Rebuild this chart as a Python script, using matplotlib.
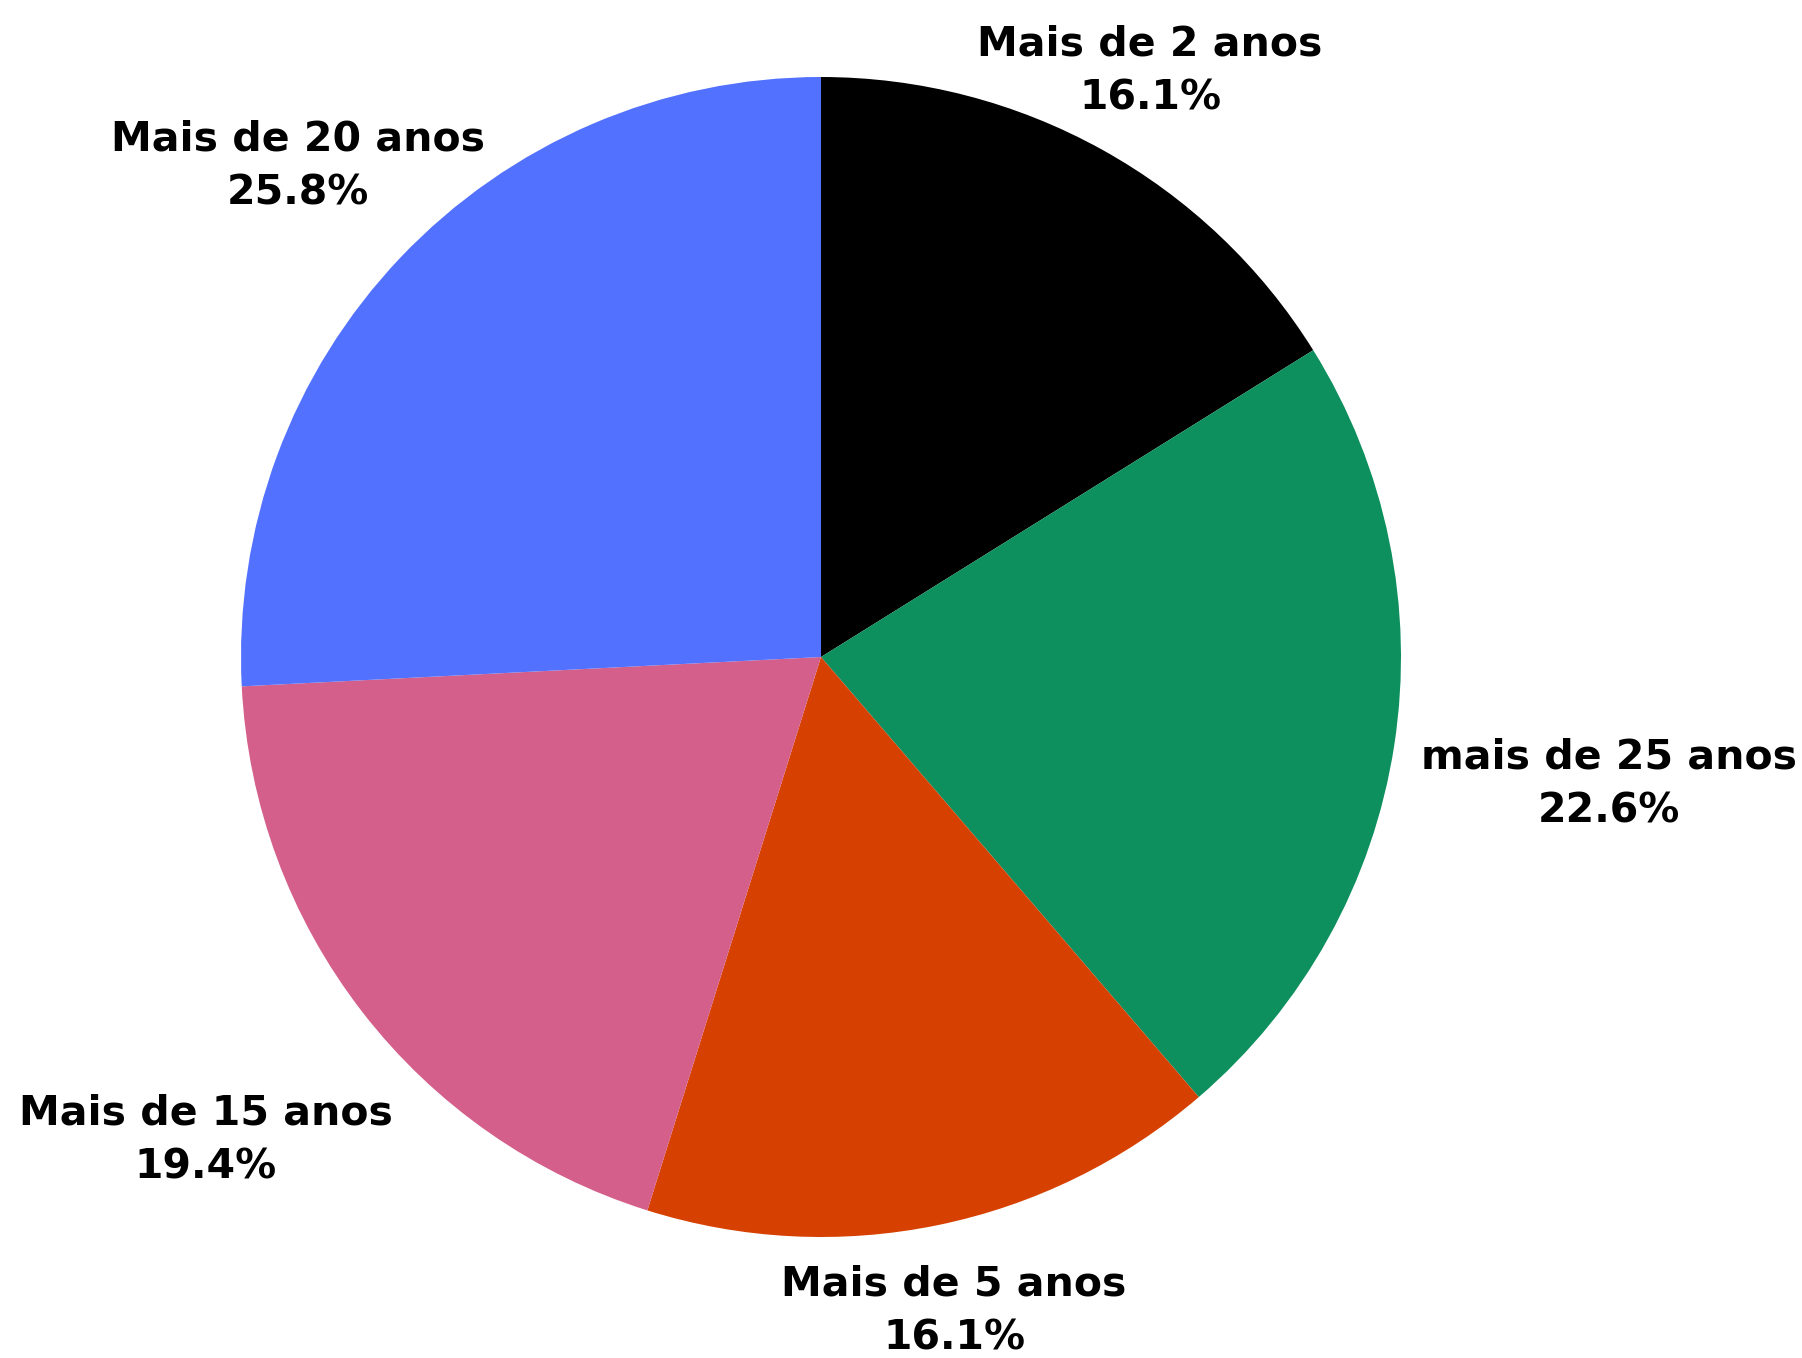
import matplotlib
matplotlib.use("Agg")
import matplotlib.pyplot as plt
import matplotlib.transforms as mtransforms
import numpy as np

categories = ["Mais de 2 anos", "mais de 25 anos", "Mais de 5 anos", "Mais de 15 anos", "Mais de 20 anos"]
values = [5, 7, 5, 6, 8]
colors = ["#000000", "#0e8f5e", "#d64000", "#d45f8a", "#5271ff"]
label_dist = [1.169, 1.374, 1.139, 1.342, 1.245]

W, H = 1802, 1358
cx, cy, R = 821, 657, 580

fig = plt.figure(figsize=(W / 100, H / 100), dpi=100)
ax = fig.add_axes([0, 0, 1, 1])
wedges, _ = ax.pie(values, colors=colors, startangle=90, counterclock=False,
                   radius=1.0, wedgeprops=dict(linewidth=0))
ax.set_xlim(-cx / R, (W - cx) / R)
ax.set_ylim(-(H - cy) / R, cy / R)
ax.set_aspect("auto")
ax.axis("off")

shift = mtransforms.offset_copy(ax.transData, fig=fig, x=0, y=-7, units="dots")
total = sum(values)
for w, name, v, d in zip(wedges, categories, values, label_dist):
    ang = np.deg2rad((w.theta1 + w.theta2) / 2)
    ax.text(d * np.cos(ang), d * np.sin(ang), f"{name}\n{100 * v / total:.1f}%",
            ha="center", va="center", fontsize=29.5, fontweight="bold",
            family=["DejaVu Sans"], linespacing=1.45, color="black",
            transform=shift)

fig.savefig("out.png", dpi=100)
